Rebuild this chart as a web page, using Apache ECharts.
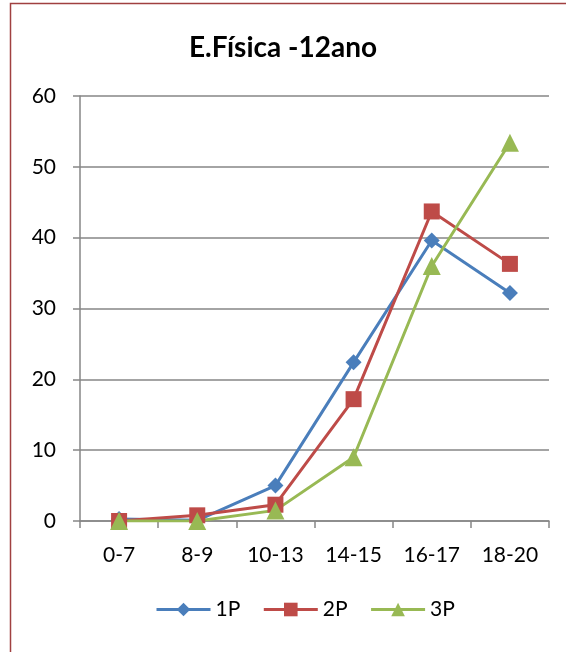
<!DOCTYPE html>
<html>
<head>
<meta charset="utf-8">
<script src="https://cdn.jsdelivr.net/npm/echarts@6/dist/echarts.min.js"></script>
<style>
html,body{margin:0;padding:0;background:#fff;}
#c{width:566px;height:652px;}
</style>
</head>
<body>
<div id="c"></div>
<script>
var titleText = 'E.Física -12ano';
var categories = ['0-7', '8-9', '10-13', '14-15', '16-17', '18-20'];
var s1Name = '1P';
var s1 = [0.3, 0.1, 5.0, 22.4, 39.6, 32.2];
var s2Name = '2P';
var s2 = [0.0, 0.8, 2.3, 17.2, 43.7, 36.3];
var s3Name = '3P';
var s3 = [0.0, 0.0, 1.5, 9.0, 36.0, 53.4];
var yTicks = [0, 10, 20, 30, 40, 50, 60];

var FONT = 'Lato';
var chart = echarts.init(document.getElementById('c'));
function mk(name, data, color, symbol, size) {
  return {
    name: name, type: 'line', data: data,
    symbol: symbol, symbolSize: size,
    lineStyle: { color: color, width: 3 },
    itemStyle: { color: color },
    animation: false
  };
}
chart.setOption({
  animation: false,
  title: {
    text: titleText, left: 'center', top: 29,
    textStyle: { fontFamily: FONT, fontWeight: 'bold', fontSize: 28, color: '#000' }
  },
  legend: {
    bottom: 27, left: 150, itemWidth: 54, itemHeight: 17, itemGap: 22,
    lineStyle: { width: 3 },
    textStyle: { fontFamily: FONT, fontSize: 21, color: '#000' },
    data: [s1Name, s2Name, s3Name]
  },
  grid: { left: 80, right: 17, top: 96, bottom: 131, containLabel: false },
  xAxis: {
    type: 'category', data: categories, boundaryGap: true,
    axisLine: { lineStyle: { color: '#868686', width: 1.5 } },
    axisTick: { show: true, length: 7, lineStyle: { color: '#868686', width: 1.5 } },
    axisLabel: { fontFamily: FONT, fontSize: 21, color: '#000', margin: 24 }
  },
  yAxis: {
    type: 'value', min: yTicks[0], max: yTicks[yTicks.length - 1], interval: 10,
    axisLine: { show: true, lineStyle: { color: '#868686', width: 1.5 } },
    axisTick: { show: true, length: 7, lineStyle: { color: '#868686', width: 1.5 } },
    splitLine: { lineStyle: { color: '#868686', width: 1.5 } },
    axisLabel: { fontFamily: FONT, fontSize: 21, color: '#000', margin: 24 }
  },
  series: [
    mk(s1Name, s1, '#4A7EBB', 'diamond', 16),
    mk(s2Name, s2, '#BE4B48', 'rect', 16),
    mk(s3Name, s3, '#98B954', 'triangle', 18)
  ],
  graphic: [{
    type: 'rect', silent: true, z: -1,
    shape: { x: 10.5, y: 3.5, width: 700, height: 800 },
    style: { fill: 'none', stroke: '#A04040', lineWidth: 1.5 }
  }]
});
</script>
</body>
</html>
